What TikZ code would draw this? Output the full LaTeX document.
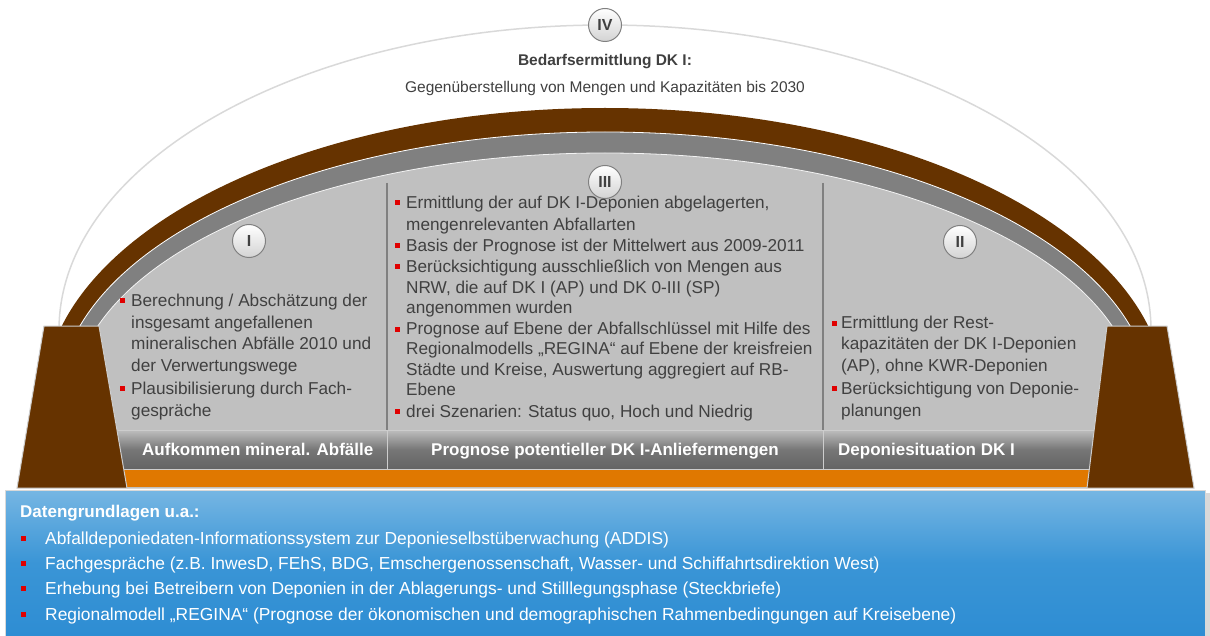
\documentclass[tikz,border=0pt]{standalone}
\usepackage{fontspec}
\setmainfont{Liberation Sans}
\usepackage{tikz}
\usetikzlibrary{positioning}

\definecolor{archbrown}{HTML}{663300}
\definecolor{bandgrey}{HTML}{808080}
\definecolor{innergrey}{HTML}{C0C0C0}
\definecolor{txtgrey}{HTML}{404040}
\definecolor{bulred}{HTML}{E00000}
\definecolor{barorange}{HTML}{E07800}
\definecolor{bluetop}{HTML}{76B6E3}
\definecolor{bluemid}{HTML}{3A95D6}
\definecolor{bluebot}{HTML}{2E8DD3}
\definecolor{arcgrey}{HTML}{D9D9D9}
\definecolor{bartop}{HTML}{BEBEBE}
\definecolor{barbot}{HTML}{646464}

\tikzset{
  coltext/.style={anchor=base west, inner sep=0pt, text=txtgrey, font=\fontsize{17.2bp}{20bp}\selectfont},
  bluetext/.style={anchor=base west, inner sep=0pt, text=white, font=\fontsize{17.4bp}{20bp}\selectfont},
  barlabel/.style={anchor=base west, inner sep=0pt, text=white, font=\fontsize{17bp}{20bp}\selectfont\bfseries},
  numcirc/.style={circle, minimum size=33bp, inner sep=0pt, draw=bandgrey, line width=1bp,
    top color=white, bottom color=innergrey!70, text=txtgrey, font=\fontsize{16bp}{18bp}\selectfont\bfseries},
  barcell/.style={top color=bartop, bottom color=barbot, middle color=barbot!80!bartop, draw=innergrey!80, line width=1bp},
  divider/.style={draw=bandgrey, line width=1.5bp},
  pillar/.style={fill=archbrown, draw=innergrey!80, line width=1bp}
}

\begin{document}
\begin{tikzpicture}[x=1bp, y=-1bp]
\useasboundingbox (0,0) rectangle (1210,636);

% Datengrundlagen
\fill[innergrey!60] (9,493) rectangle (1210,636);
\shade[top color=bluetop, bottom color=bluebot, middle color=bluemid, draw=innergrey!60, line width=1bp] (5,490) rectangle (1205,636);

% Bogen IV
\begin{scope}
\clip (0,0) rectangle (1210,326);
\draw[arcgrey, line width=1.5bp] (605,330) ellipse [x radius=546, y radius=305];
\end{scope}

% Gewoelbe
\begin{scope}
\clip (0,0) -- (1210,0) -- (1210,326) -- (1107,326) -- (1087,488) -- (127,488) -- (99,326) -- (0,326) -- cycle;
\fill[archbrown] (605,400) ellipse [x radius=561.4, y radius=292];
\fill[bandgrey] (605,400) ellipse [x radius=546.2, y radius=268];
\draw[white, line width=0.8bp] (605,400) ellipse [x radius=546.2, y radius=268];
\fill[innergrey] (605,400) ellipse [x radius=531.4, y radius=247];
\draw[white!80!innergrey, line width=0.8bp] (605,400) ellipse [x radius=531.4, y radius=247];
\fill[innergrey] (99,326) rectangle (1110,470);
\end{scope}

% Orange Leiste
\fill[barorange] (95,469) rectangle (1115,487);

% Spalten
\draw[divider] (387,183) -- (387,430);
\draw[divider] (823,183) -- (823,430);

% Leiste unten
\shade[barcell] (95,430) rectangle (387,469);
\shade[barcell] (387,430) rectangle (823,469);
\shade[barcell] (823,430) rectangle (1115,469);
\node[barlabel] (lblI) at (142,455) {Aufkommen mineral. Abfälle};
\node[barlabel, anchor=base] (lblIII) at (605,455) {Prognose potentieller DK I-Anliefermengen};
\node[barlabel] (lblII) at (838,455) {Deponiesituation DK I};

% Pfeiler
\path[pillar] (44,326) -- (99,326) -- (127,488) -- (17,488) -- cycle;
\path[pillar] (1107,326) -- (1167,326) -- (1194,488) -- (1087,488) -- cycle;

% Nummern
\node[numcirc] (nIV) at (605,25) {IV};
\node[numcirc] (nIII) at (605,182) {III};
\node[numcirc] (nI) at (249,241) {I};
\node[numcirc] (nII) at (960,242) {II};

% Titel
\node[anchor=base, inner sep=0pt, text=txtgrey, font=\fontsize{15.5bp}{18bp}\selectfont\bfseries] (title) at (605,66) {Bedarfsermittlung DK I:};
\node[anchor=base, inner sep=0pt, text=txtgrey, font=\fontsize{15.5bp}{18bp}\selectfont] (subtitle) at (605,93) {Gegenüberstellung von Mengen und Kapazitäten bis 2030};

% Spalte I
\foreach \n/\y/\txt in {1/307/{Berechnung / Abschätzung der}, 2/329/{insgesamt angefallenen},
    3/350/{mineralischen Abfälle 2010 und}, 4/371/{der Verwertungswege},
    5/394/{Plausibilisierung durch Fach-}, 6/416/{gespräche}}
  \node[coltext] (tI\n) at (131,\y) {\txt};
\foreach \y in {307,394}
  \fill[bulred] (120,\y-8.5) rectangle ++(5,5);

% Spalte III
\foreach \n/\y/\txt in {1/209/{Ermittlung der auf DK I-Deponien abgelagerten,}, 2/231/{mengenrelevanten Abfallarten},
    3/252/{Basis der Prognose ist der Mittelwert aus 2009-2011},
    4/273/{Berücksichtigung ausschließlich von Mengen aus}, 5/294/{NRW, die auf DK I (AP) und DK 0-III (SP)},
    6/314/{angenommen wurden},
    7/335/{Prognose auf Ebene der Abfallschlüssel mit Hilfe des}, 8/355/{Regionalmodells „REGINA“ auf Ebene der kreisfreien},
    9/375/{Städte und Kreise, Auswertung aggregiert auf RB-}, 10/395/{Ebene},
    11/417/{drei Szenarien: Status quo, Hoch und Niedrig}}
  \node[coltext] (tIII\n) at (406,\y) {\txt};
\foreach \y in {209,252,273,335,417}
  \fill[bulred] (395,\y-8.5) rectangle ++(5,5);

% Spalte II
\foreach \n/\y/\txt in {1/329/{Ermittlung der Rest-}, 2/350/{kapazitäten der DK I-Deponien},
    3/371/{(AP), ohne KWR-Deponien}, 4/394/{Berücksichtigung von Deponie-}, 5/416/{planungen}}
  \node[coltext] (tII\n) at (841,\y) {\txt};
\foreach \y in {329,394}
  \fill[bulred] (832,\y-8.5) rectangle ++(5,5);

% Datengrundlagen Text
\node[bluetext, font=\fontsize{17bp}{20bp}\selectfont\bfseries] (dgTitle) at (20,517) {Datengrundlagen u.a.:};
\foreach \n/\y/\txt in {1/544/{Abfalldeponiedaten-Informationssystem zur Deponieselbstüberwachung (ADDIS)},
    2/569/{Fachgespräche (z.B. InwesD, FEhS, BDG, Emschergenossenschaft, Wasser- und Schiffahrtsdirektion West)},
    3/594/{Erhebung bei Betreibern von Deponien in der Ablagerungs- und Stilllegungsphase (Steckbriefe)},
    4/620/{Regionalmodell „REGINA“ (Prognose der ökonomischen und demographischen Rahmenbedingungen auf Kreisebene)}}
  \node[bluetext] (dg\n) at (45,\y) {\txt};
\foreach \y in {544,569,594,620}
  \fill[bulred] (21,\y-8.5) rectangle ++(5,5);

\end{tikzpicture}
\end{document}
